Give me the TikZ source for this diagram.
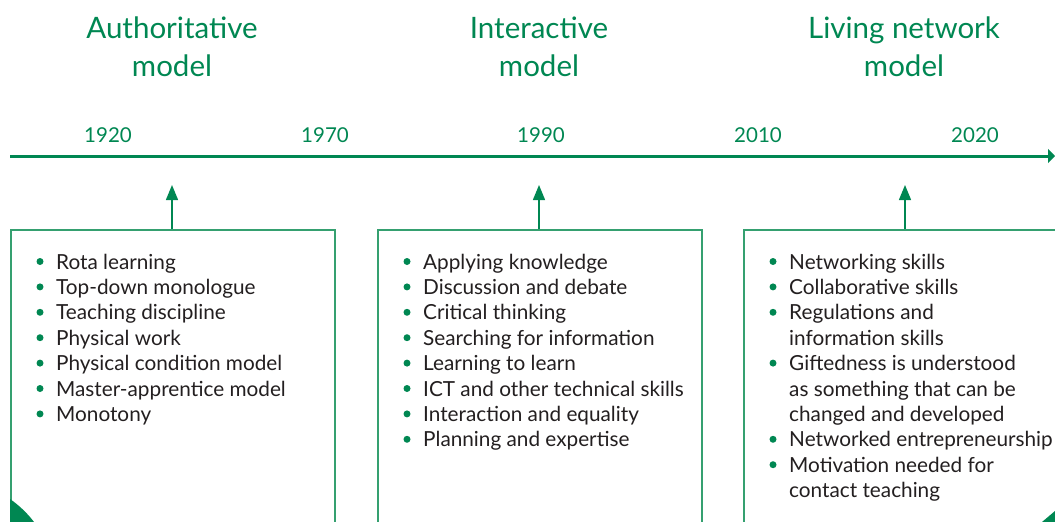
\documentclass[tikz,border=0pt]{standalone}
\usepackage{fontspec}
\setmainfont{Lato}
\usetikzlibrary{arrows.meta}
\definecolor{tgreen}{HTML}{008752}
\definecolor{bgreen}{HTML}{35A070}
\definecolor{txt}{HTML}{231F20}
\tikzset{
  title/.style={text=tgreen, font=\fontsize{29.5}{39}\selectfont, anchor=base, inner sep=0},
  year/.style={text=tgreen, font=\fontsize{20.5}{25}\selectfont, anchor=base, inner sep=0},
  item/.style={text=txt, font=\fontsize{20.75}{25}\selectfont, anchor=base west, inner sep=0},
  dot/.style={circle, fill=tgreen, inner sep=0, minimum size=7},
  panel/.style={draw=bgreen, line width=1.5, fill=white, minimum width=324, minimum height=340, anchor=north west, inner sep=0},
  pointer/.style={draw=tgreen, line width=1.4, -{Triangle[length=15, width=12]}},
  axis/.style={draw=tgreen, line width=3, -{Triangle[length=7, width=14]}},
  corner/.style={fill=tgreen, draw=none}
}
\begin{document}
\begin{tikzpicture}[x=1pt, y=-1pt]
\useasboundingbox (0,0) rectangle (1055,522);
\clip (0,0) rectangle (1055,522);
% titles
\node[title] (t1a) at (172,38) {Authoritative};
\node[title] (t1b) at (172,76) {model};
\node[title] (t2a) at (539,38) {Interactive};
\node[title] (t2b) at (539,76) {model};
\node[title] (t3a) at (904,38) {Living network};
\node[title] (t3b) at (904,76) {model};
% years
\node[year] (y1) at (108,142) {1920};
\node[year] (y2) at (325,142) {1970};
\node[year] (y3) at (541,142) {1990};
\node[year] (y4) at (758,142) {2010};
\node[year] (y5) at (975,142) {2020};
% timeline
\coordinate (ax0) at (10,156);
\coordinate (ax1) at (1055,156);
\draw[axis] (ax0) -- (ax1);
% panels
\node[panel] (pA) at (10,229) {};
\node[panel] (pB) at (377,229) {};
\node[panel] (pC) at (743,229) {};
\coordinate (tipA) at (172,185);
\coordinate (tipB) at (539,185);
\coordinate (tipC) at (905,185);
\draw[pointer] (pA.north -| tipA) -- (tipA);
\draw[pointer] (pB.north -| tipB) -- (tipB);
\draw[pointer] (pC.north -| tipC) -- (tipC);
% corners
\fill[corner] (10,499) .. controls (20,506) and (28,514) .. (34,522) -- (10,522) -- cycle;
\fill[corner] (1042,522) -- (1055,511) -- (1055,522) -- cycle;
% left items
\foreach \t [count=\i from 0] in {Rota learning, Top-down monologue, Teaching discipline, Physical work, Physical condition model, Master-apprentice model, Monotony}{
  \node[item] (a\i) at (56,269+25.4*\i) {\t};
  \node[dot] (ad\i) at (40,261.5+25.4*\i) {};
}
% middle items
\foreach \t [count=\i from 0] in {Applying knowledge, Discussion and debate, Critical thinking, Searching for information, Learning to learn, ICT and other technical skills, Interaction and equality, Planning and expertise}{
  \node[item] (b\i) at (423,269+25.4*\i) {\t};
  \node[dot] (bd\i) at (407,261.5+25.4*\i) {};
}
% right items
\foreach \t [count=\i from 0] in {Networking skills, Collaborative skills, Regulations and, information skills, Giftedness is understood, as something that can be, changed and developed, Networked entrepreneurship, Motivation needed for, contact teaching}{
  \node[item] (c\i) at (789,269+25.4*\i) {\t};
}
\foreach \i in {0,1,2,4,7,8}{
  \node[dot] (cd\i) at (773,261.5+25.4*\i) {};
}
\end{tikzpicture}
\end{document}
